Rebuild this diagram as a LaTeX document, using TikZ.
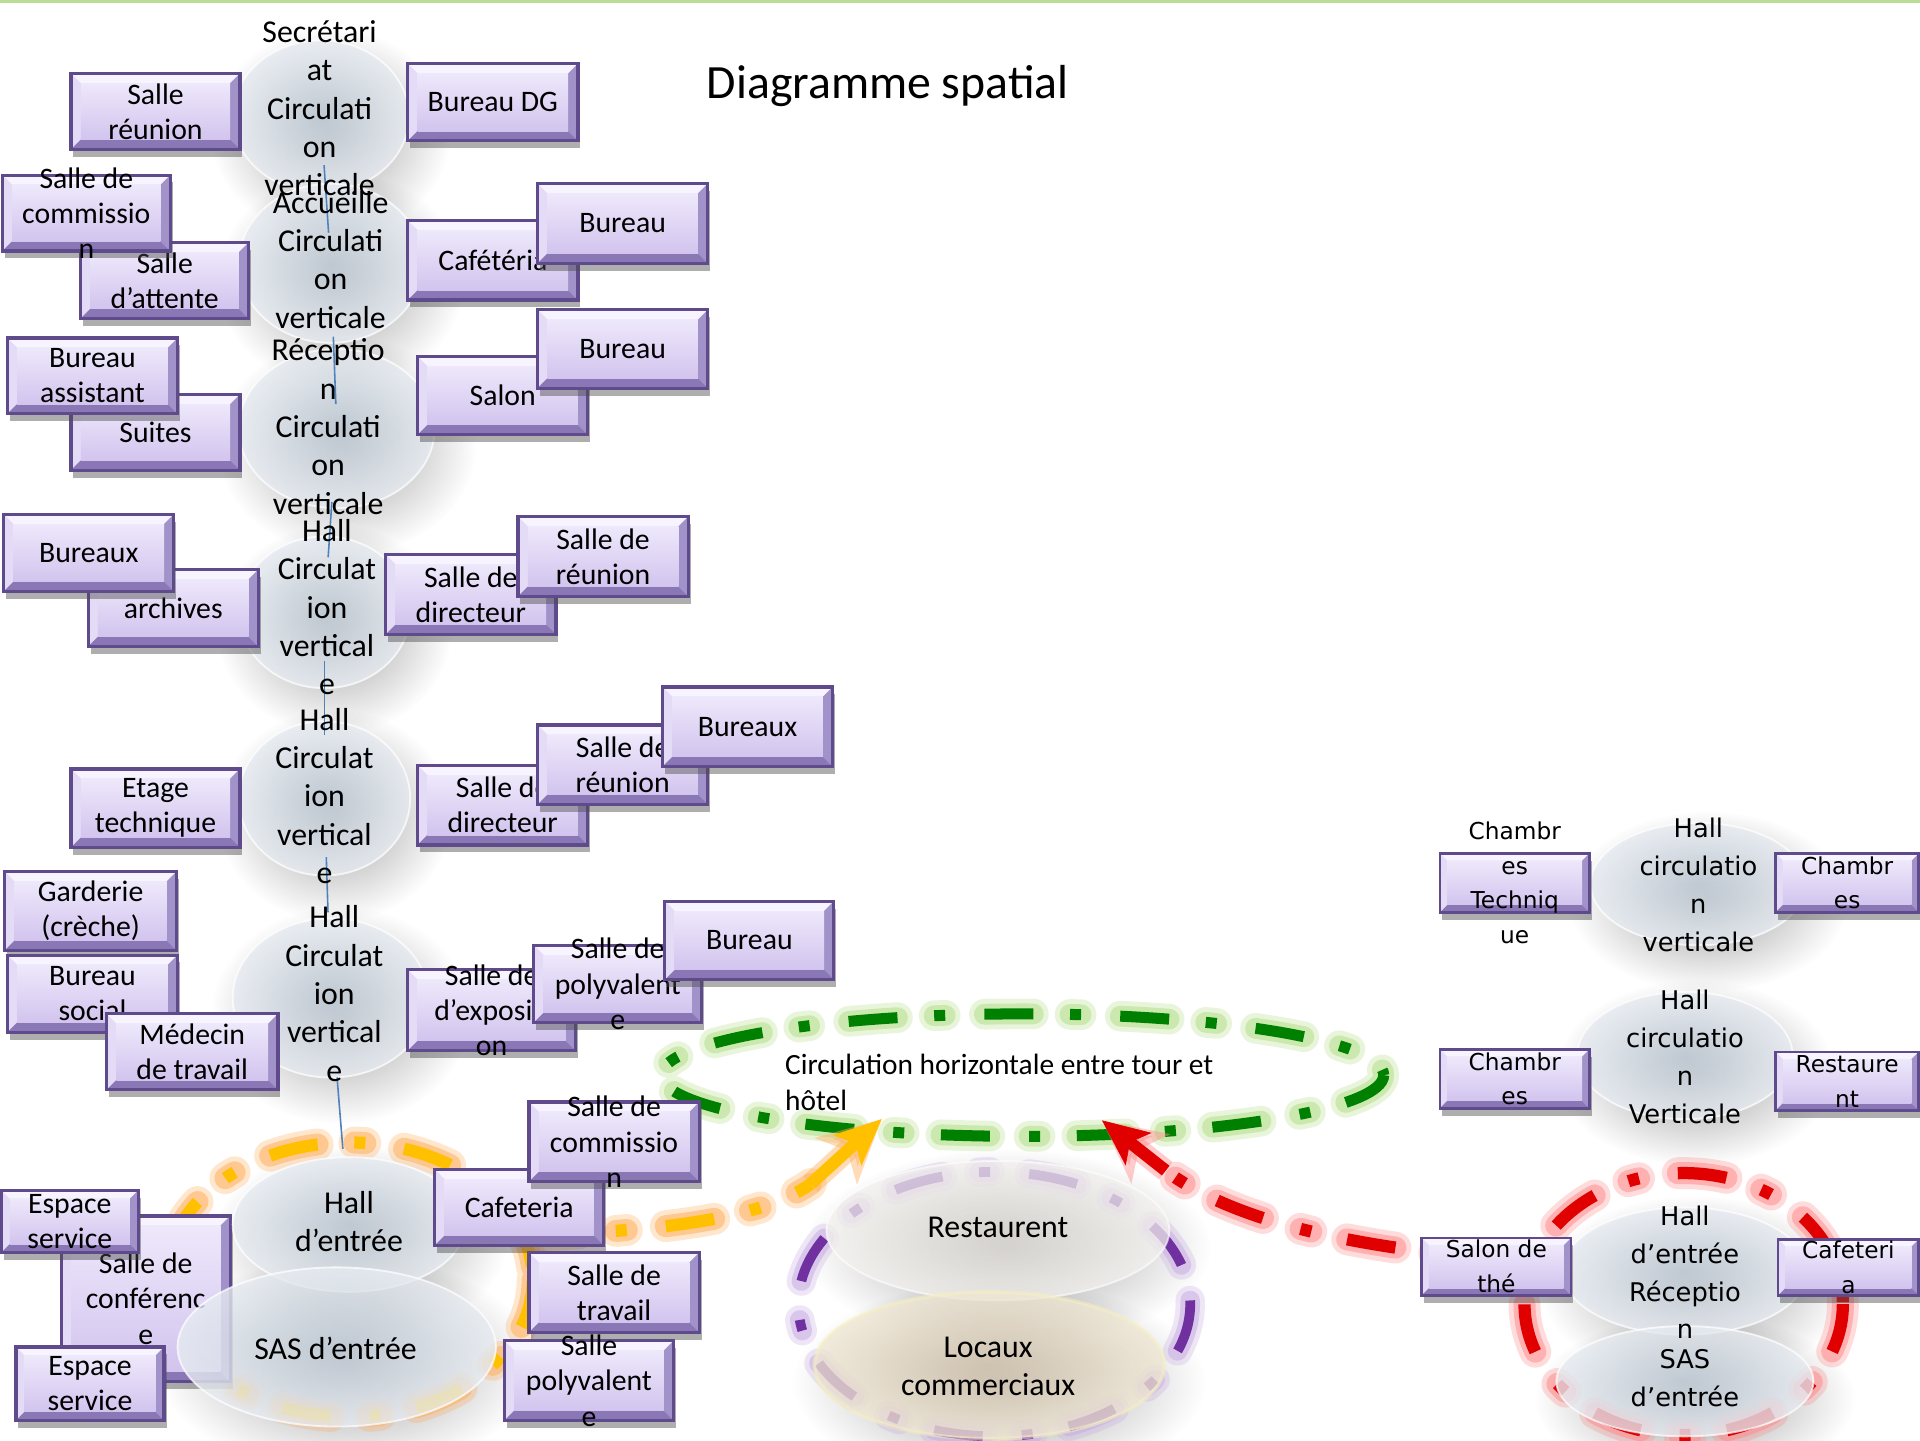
\documentclass[tikz,border=0pt]{standalone}
\usepackage{fontspec}
\setmainfont{Carlito}
\newfontfamily\verd{DejaVu Sans}
\usetikzlibrary{shapes.geometric,shadows,arrows.meta,fadings,calc}

\definecolor{boxline}{HTML}{5F4B8B}
\definecolor{bvtop}{HTML}{F7F3FF}
\definecolor{bvleft}{HTML}{E4DBF6}
\definecolor{bvright}{HTML}{A292CA}
\definecolor{bvbot}{HTML}{8A78B6}
\definecolor{facetop}{HTML}{EEE8FB}
\definecolor{facebot}{HTML}{D2C4EE}
\definecolor{circin}{HTML}{C4CFDB}
\definecolor{circout}{HTML}{E6EBF1}
\definecolor{restin}{HTML}{E4E0DB}
\definecolor{restout}{HTML}{F3F1EE}
\definecolor{locin}{HTML}{D8C8B2}
\definecolor{locout}{HTML}{EFE7D3}
\definecolor{locrim}{HTML}{F6F0C0}
\definecolor{grn}{HTML}{008000}
\definecolor{grnglow}{HTML}{B4E08A}
\definecolor{orng}{HTML}{FFC000}
\definecolor{orngglow}{HTML}{FFB060}
\definecolor{rd}{HTML}{E00000}
\definecolor{rdglow}{HTML}{FF8C8C}
\definecolor{purp}{HTML}{7030A0}
\definecolor{purpglow}{HTML}{C9AEE3}
\definecolor{conncol}{HTML}{4F81BD}
\definecolor{topline}{HTML}{B9DE94}

\tikzfading[name=softfade, inner color=transparent!10, outer color=transparent!100]

\newcommand\bevelfill[1]{%
  \coordinate (bnw) at (path picture bounding box.north west);
  \coordinate (bne) at (path picture bounding box.north east);
  \coordinate (bse) at (path picture bounding box.south east);
  \coordinate (bsw) at (path picture bounding box.south west);
  \coordinate (inw) at ($(bnw)+(#1,-#1)$);
  \coordinate (ine) at ($(bne)+(-#1,-#1)$);
  \coordinate (ise) at ($(bse)+(-#1,#1)$);
  \coordinate (isw) at ($(bsw)+(#1,#1)$);
  \fill[bvtop] (bnw)--(bne)--(ine)--(inw)--cycle;
  \fill[bvleft] (bnw)--(inw)--(isw)--(bsw)--cycle;
  \fill[bvright] (bne)--(bse)--(ise)--(ine)--cycle;
  \fill[bvbot] (bsw)--(isw)--(ise)--(bse)--cycle;
  \shade[top color=facetop, bottom color=facebot] (inw) rectangle (ise);
}

\tikzset{
  roomrect/.style={rectangle, draw=boxline, line width=2.6pt, inner sep=0pt, outer sep=0pt, fill=bvleft,
    drop shadow={shadow xshift=2pt, shadow yshift=-6pt, opacity=.45, fill=black!70},
    path picture={\bevelfill{#1}}},
  roomrect/.default=8pt,
  btext/.style={align=center, inner sep=0pt, font=\fontsize{24.3}{28.8}\selectfont},
  rbtext/.style={align=center, inner sep=0pt, font=\verd\fontsize{19}{28.5}\selectfont},
  etext/.style={align=center, inner sep=0pt, font=\fontsize{26}{31.3}\selectfont},
  retext/.style={align=center, inner sep=0pt, font=\verd\fontsize{21}{31}\selectfont},
  circ/.style={ellipse, inner sep=0pt, outer sep=0pt, inner color=circin, outer color=circout,
    fill opacity=.8, draw=white, draw opacity=.7, line width=1.5pt},
  rest/.style={ellipse, inner sep=0pt, outer sep=0pt, inner color=restin, outer color=restout,
    fill opacity=.75, draw=white, draw opacity=.6, line width=1.5pt},
  loc/.style={ellipse, inner sep=0pt, outer sep=0pt, inner color=locin, outer color=locout,
    fill opacity=.78, draw=locrim, draw opacity=.5, line width=3pt},
  conn/.style={draw=conncol, line width=1.3pt},
  dd/.style={dash pattern=on 40pt off 30pt on 9pt off 32pt},
}

\newcommand\room[7][8pt]{%
  \node[roomrect=#1, minimum width={(#5)-(#3)}, minimum height={(#6)-(#4)}] (#2) at ({((#3)+(#5))/2},{((#4)+(#6))/2}) {};
  \node[btext] (#2t) at (#2.center) {#7};}
\newcommand\rroom[6]{%
  \node[roomrect=6pt, line width=2.2pt, minimum width={(#4)-(#2)}, minimum height={(#5)-(#3)}] (#1) at ({((#2)+(#4))/2},{((#3)+(#5))/2}) {};
  \node[rbtext] (#1t) at (#1.center) {#6};}
\newcommand\eshadow[4]{%
  \fill[black, path fading=softfade, fill opacity=.42] ({#1+8},{#2+14}) ellipse [x radius={#3+26}, y radius={#4+24}];}
\newcommand\ovalnode[6]{%
  \node[#6, minimum width={2*(#4)}, minimum height={2*(#5)}] (#1) at (#2,#3) {};}
\newcommand\glowdraw[4]{%
  \draw[draw=#2, line width={#3+16pt}, draw opacity=.3, line cap=round, dd] #4;
  \draw[draw=#2, line width={#3+8pt}, draw opacity=.55, line cap=round, dd] #4;
  \draw[draw=#1, line width=#3, dd] #4;}

\begin{document}
\begin{tikzpicture}[x=1pt,y=-1pt]
\useasboundingbox (0,0) rectangle (1568,1176);
\fill[white] (0,0) rectangle (1568,1176);
\fill[topline] (0,0) rectangle (1568,2.5);

% soft shadows of the ellipses
\eshadow{262}{95}{72}{62}
\eshadow{270}{215}{75}{65}
\eshadow{275}{350}{80}{65}
\eshadow{265}{500}{70}{62}
\eshadow{265}{652}{70}{63}
\eshadow{270}{815}{80}{65}
\eshadow{285}{1000}{95}{55}
\eshadow{275}{1100}{130}{65}
\eshadow{815}{1005}{140}{57}
\eshadow{808}{1115}{143}{60}
\eshadow{1387}{722}{88}{50}
\eshadow{1376}{862}{88}{52}
\eshadow{1376}{1038}{100}{52}
\eshadow{1376}{1128}{105}{45}

% dash-dot loops
\glowdraw{orng}{orngglow}{10pt}{(285,1045) ellipse [x radius=150, y radius=112]}
\glowdraw{grn}{grnglow}{9pt}{(835,878) ellipse [x radius=295, y radius=50]}
\glowdraw{purp}{purpglow}{8pt}{(812,1065) ellipse [x radius=160, y radius=108]}
\glowdraw{rd}{rdglow}{10pt}{(1375,1065) ellipse [x radius=130, y radius=107]}

% orange arrow towards the horizontal circulation
\coordinate (oStart) at (433,1009);
\coordinate (oBend) at (662,967);
\coordinate (oTip) at (720,914);
\glowdraw{orng}{orngglow}{10pt}{(oStart) .. controls (540,1005) and (620,996) .. (oBend)}
\draw[orngglow, opacity=.45, line width=18pt, -{Stealth[length=50pt,width=50pt,inset=12pt]}] (oBend) -- (oTip);
\draw[orng, line width=10pt, -{Stealth[length=38pt,width=34pt,inset=9pt,line width=0.5pt]}] (oBend) -- (oTip);

% red arrow towards the horizontal circulation
\coordinate (rStart) at (1250,1030);
\coordinate (rBend) at (952,956);
\coordinate (rTip) at (900,915);
\glowdraw{rd}{rdglow}{10pt}{(rStart) .. controls (1120,1022) and (1010,1000) .. (rBend)}
\draw[rdglow, opacity=.45, line width=18pt, -{Stealth[length=50pt,width=50pt,inset=12pt]}] (rBend) -- (rTip);
\draw[rd, line width=10pt, -{Stealth[length=38pt,width=34pt,inset=9pt,line width=0.5pt]}] (rBend) -- (rTip);

% box behind the entrance ellipses
\room{b28}{50}{993}{188}{1128}{Salle de\\conférenc\\e}

% ellipses
\ovalnode{e1}{262}{95}{72}{62}{circ}
\ovalnode{e2}{270}{215}{75}{65}{circ}
\ovalnode{e3}{275}{350}{80}{65}{circ}
\ovalnode{e4}{265}{500}{70}{62}{circ}
\ovalnode{e5}{265}{652}{70}{63}{circ}
\ovalnode{e6}{270}{815}{80}{65}{circ}
\ovalnode{e7}{285}{1000}{95}{55}{circ}
\ovalnode{e8}{275}{1100}{130}{65}{circ}
\ovalnode{m1}{815}{1005}{140}{57}{rest}
\ovalnode{m2}{808}{1115}{143}{60}{loc}
\ovalnode{r1}{1387}{722}{88}{50}{circ}
\ovalnode{r2}{1376}{862}{88}{52}{circ}
\ovalnode{r3}{1376}{1038}{100}{52}{circ}
\ovalnode{r4}{1376}{1128}{105}{45}{circ}

% vertical connectors
\draw[conn, shorten <=40pt, shorten >=25pt] (e1.center) -- (e2.center);
\draw[conn, shorten <=60pt, shorten >=20pt] (e2.center) -- (e3.center);
\draw[conn, shorten <=60pt, shorten >=45pt] (e3.center) -- (e4.center);
\draw[conn, shorten <=40pt, shorten >=52pt] (e4.center) -- (e5.center);
\draw[conn, shorten <=48pt, shorten >=70pt] (e5.center) -- (e6.center);
\draw[conn, shorten <=65pt, shorten >=62pt] (e6.center) -- (e7.center);

% rooms (tower)
\room{b1}{58}{60}{196}{122}{Salle\\réunion}
\room{b2}{333}{52}{472}{115}{Bureau DG}
\room{b4}{66}{198}{203}{260}{Salle\\d’attente}
\room{b3}{2}{143}{139}{205}{Salle de\\commissio\\n}
\room{b5}{333}{180}{472}{245}{Cafétéria}
\room{b6}{439}{150}{578}{215}{Bureau}
\room{b8}{58}{322}{196}{384}{Suites}
\room{b7}{6}{276}{145}{338}{Bureau\\assistant}
\room{b9}{341}{291}{480}{355}{Salon}
\room{b10}{439}{253}{578}{317}{Bureau}
\room{b12}{72}{465}{211}{528}{archives}
\room{b11}{3}{420}{142}{483}{Bureaux}
\room{b13}{315}{453}{454}{518}{Salle de\\directeur}
\room{b14}{423}{422}{562}{487}{Salle de\\réunion}
\room{b15}{58}{628}{196}{692}{Etage\\technique}
\room{b16}{341}{625}{480}{690}{Salle de\\directeur}
\room{b17}{439}{592}{578}{657}{Salle de\\réunion}
\room{b18}{541}{561}{680}{626}{Bureaux}
\room{b19}{4}{712}{144}{776}{Garderie\\(crèche)}
\room{b20}{6}{780}{145}{843}{Bureau\\social}
\room{b21}{87}{828}{227}{890}{Médecin\\de travail}
\room{b22}{333}{792}{470}{858}{Salle de\\d’expositi\\on}
\room{b23}{436}{772}{573}{835}{Salle de\\polyvalent\\e}
\room{b24}{543}{736}{681}{800}{Bureau}
\room{b26}{355}{955}{493}{1017}{Cafeteria}
\room{b25}{432}{900}{571}{965}{Salle de\\commissio\\n}
\room[7pt]{b27}{1}{972}{113}{1023}{Espace\\service}
\room[7pt]{b29}{13}{1100}{134}{1160}{Espace\\service}
\room{b30}{432}{1023}{571}{1088}{Salle de\\travail}
\room{b31}{412}{1095}{550}{1160}{Salle\\polyvalent\\e}

% rooms (hotel)
\rroom{r32}{1176}{697}{1298}{745}{Chambr\\es\\Techniq\\ue}
\rroom{r33}{1450}{697}{1567}{745}{Chambr\\es}
\rroom{r34}{1176}{857}{1298}{905}{Chambr\\es}
\rroom{r35}{1450}{859}{1567}{907}{Restaure\\nt}
\rroom{r36}{1161}{1011}{1283}{1058}{Salon de\\thé}
\rroom{r37}{1452}{1012}{1567}{1058}{Cafeteri\\a}

% ellipse texts
\node[etext] (e1t) at (261,88.5) {Secrétari\\at\\Circulati\\on\\verticale};
\node[etext] (e2t) at (270,212) {Accueille\\Circulati\\on\\verticale};
\node[etext] (e3t) at (268,348.5) {Réceptio\\n\\Circulati\\on\\verticale};
\node[etext] (e4t) at (267,496) {Hall\\Circulat\\ion\\vertical\\e};
\node[etext] (e5t) at (265,650) {Hall\\Circulat\\ion\\vertical\\e};
\node[etext] (e6t) at (273,811.5) {Hall\\Circulat\\ion\\vertical\\e};
\node[etext] (e7t) at (285,997.5) {Hall\\d’entrée};
\node[etext] (e8t) at (274,1101) {SAS d’entrée};
\node[etext] (m1t) at (815,1002) {Restaurent};
\node[etext] (m2t) at (807,1116) {Locaux\\commerciaux};
\node[retext] (r1t) at (1387,723) {Hall\\circulatio\\n\\verticale};
\node[retext] (r2t) at (1376,863) {Hall\\circulatio\\n\\Verticale};
\node[retext] (r3t) at (1376,1039) {Hall\\d’entrée\\Réceptio\\n};
\node[retext] (r4t) at (1376,1125.5) {SAS\\d’entrée};

% labels
\node[anchor=north west, align=left, inner sep=0pt, font=\fontsize{24}{29}\selectfont] (hlabel) at (641,861) {Circulation horizontale entre tour et\\hôtel};
\node[inner sep=0pt, font=\fontsize{39}{46}\selectfont] (title) at (725,70) {Diagramme spatial};
\end{tikzpicture}
\end{document}
